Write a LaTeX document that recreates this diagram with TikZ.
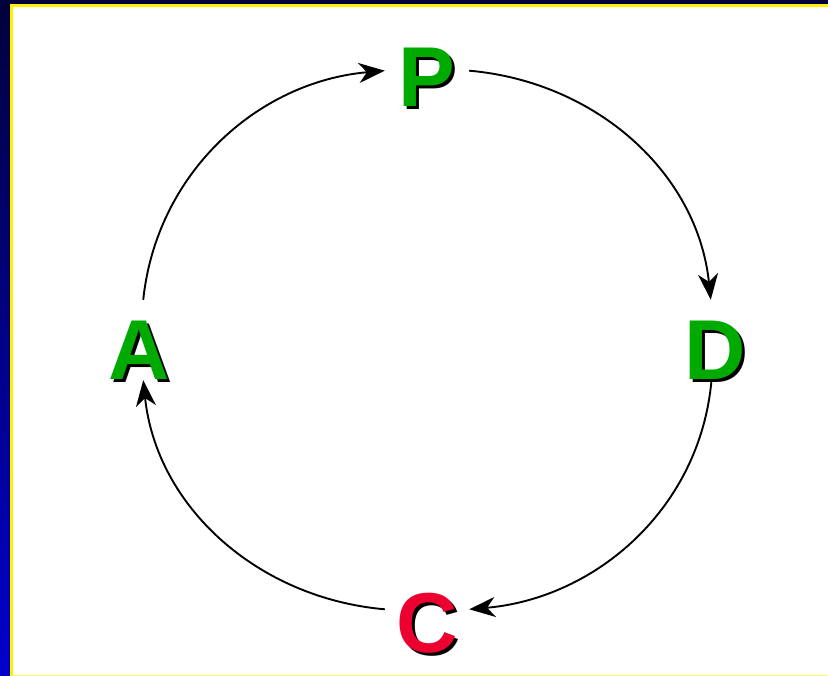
\documentclass[tikz,border=0pt]{standalone}
\usepackage{fontspec}
\setmainfont{Liberation Sans}
\usetikzlibrary{arrows.meta}
\definecolor{pdcagreen}{RGB}{0,170,0}
\definecolor{pdcared}{RGB}{236,0,48}
\definecolor{framenavy}{RGB}{0,0,60}
\definecolor{frameblue}{RGB}{0,0,205}
\newcommand{\dropletter}[2]{\rlap{\hspace{3pt}\raisebox{-3pt}{\textcolor{black}{#2}}}\textcolor{#1}{#2}}
\tikzset{
  letter/.style={inner sep=0pt, minimum width=84pt, text height=80pt, text depth=0pt,
    font=\fontsize{85}{85}\selectfont\bfseries},
  cyc/.style={line width=1.9pt, looseness=0.98, -{Stealth[length=26pt, width=20pt, inset=8pt]}}
}
\begin{document}
\begin{tikzpicture}[x=1pt, y=1pt]
                    % Frame
                    \useasboundingbox (0,0) rectangle (828,676);
                    \fill[white] (10,0) rectangle (828,676);
                    \shade[bottom color=frameblue, top color=framenavy] (0,0) rectangle (10,676);
                    \fill[framenavy] (10,672) rectangle (828,676);
                    \fill[yellow] (10,0) rectangle (13,672);
                    \fill[yellow] (10,669) rectangle (828,672);
                    \fill[yellow!60] (13,0) rectangle (828,1);
                    % Letters
                    \node[letter] (P) at (427,609) {\dropletter{pdcagreen}{P}};
                    \node[letter] (D) at (715,336) {\dropletter{pdcagreen}{D}};
                    \node[letter] (C) at (427,63) {\dropletter{pdcared}{C}};
                    \node[letter] (A) at (139,336) {\dropletter{pdcagreen}{A}};
                    % Arrows
                    \draw[cyc] (A) to[out=84, in=185] (P);
                    \draw[cyc] (P) to[out=-5, in=96] (D);
                    \draw[cyc] (D) to[out=-95, in=5] (C);
                    \draw[cyc] (C) to[out=175, in=-84] (A);
\end{tikzpicture}
\end{document}
